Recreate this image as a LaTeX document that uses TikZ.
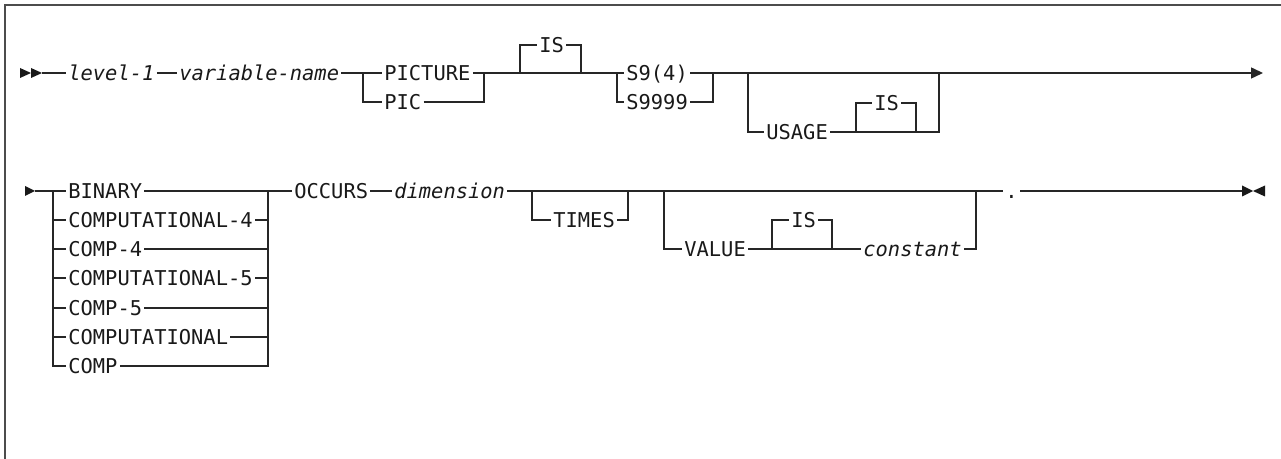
\documentclass[tikz,border=0pt]{standalone}
\usepackage{fontspec}
\setmonofont{DejaVu Sans Mono}
\usepackage{tikz}
\usetikzlibrary{arrows.meta}
\tikzset{
  rail/.style={draw=black!85, line width=0.75pt},
  kw/.style={font=\ttfamily\fontsize{10.2}{12}\selectfont, text=black!90,
    inner xsep=1pt, inner ysep=0pt, text height=7.45pt, text depth=0pt, anchor=west},
  vr/.style={kw, font=\ttfamily\itshape\fontsize{10.2}{12}\selectfont},
  tip/.style={fill=black!90},
  >={Triangle[length=6pt,width=5.5pt]},
}

\begin{document}
\begin{tikzpicture}[x=0.5pt,y=-0.5pt]
\useasboundingbox (0,0) rectangle (1281,459);
% frame
\draw[rail, draw=black!70] (1281,5) -- (5,5) -- (5,459);

% first line
\coordinate (a0) at (42,73);
\node[vr] (lvl) at (66,73) {level-1};
\node[vr] (vname) at (177,73) {variable-name};
\coordinate (b1) at (363,73);
\node[kw] (pict) at (382,73) {PICTURE};
\node[kw] (pic) at (382,102) {PIC};
\coordinate (b2) at (484,73);
\coordinate (o1) at (520,73);
\node[kw] (is1) at (537,45) {IS};
\coordinate (o2) at (581,73);
\coordinate (c1) at (617,73);
\node[kw] (s94) at (624,73) {S9(4)};
\node[kw] (s9999) at (624,102) {S9999};
\coordinate (c2) at (713,73);
\coordinate (u1) at (748,73);
\node[kw] (usage) at (764,132) {USAGE};
\coordinate (i1) at (856,132);
\node[kw] (is2) at (872,103) {IS};
\coordinate (i2) at (916,132);
\coordinate (u2) at (939,73);
\coordinate (e1) at (1263,73);

\fill[tip] (20,68) -- (31,73) -- (20,78) -- cycle;
\fill[tip] (31,68) -- (42,73) -- (31,78) -- cycle;

\draw[rail] (a0) -- (lvl.west) (lvl.east) -- (vname.west)
  (vname.east) -- (pict.west) (pict.east) -- (s94.west);
\draw[rail] (b1) |- (pic.west) (pic.east) -| (b2);
\draw[rail] (o1) |- (is1.west) (is1.east) -| (o2);
\draw[rail] (c1) |- (s9999.west) (s9999.east) -| (c2);
\draw[rail] (u1) |- (usage.west) (usage.east) -- (i2) -| (u2);
\draw[rail] (i1) |- (is2.west) (is2.east) -| (i2);
\draw[rail,->] (s94.east) -- (e1);

% second line
\coordinate (a2) at (35,191);
\coordinate (k1) at (53,191);
\node[kw] (bin) at (66,191) {BINARY};
\node[kw] (cmp4l) at (66,220) {COMPUTATIONAL-4};
\node[kw] (cmp4) at (66,249) {COMP-4};
\node[kw] (cmp5l) at (66,278) {COMPUTATIONAL-5};
\node[kw] (cmp5) at (66,308) {COMP-5};
\node[kw] (cmpl) at (66,337) {COMPUTATIONAL};
\node[kw] (cmp) at (66,366) {COMP};
\coordinate (k2) at (268,191);
\node[kw] (occ) at (292,191) {OCCURS};
\node[vr] (dim) at (392,191) {dimension};
\coordinate (t1) at (532,191);
\node[kw] (times) at (551,220) {TIMES};
\coordinate (t2) at (628,191);
\coordinate (v1) at (664,191);
\node[kw] (val) at (682,249) {VALUE};
\coordinate (i3) at (772,249);
\node[kw] (is3) at (789,220) {IS};
\coordinate (i4) at (832,249);
\node[vr] (const) at (861,249) {constant};
\coordinate (v2) at (976,191);
\node[kw] (dot) at (1003,191) {.};
\coordinate (z1) at (1242,191);

\fill[tip] (25,186) -- (35,191) -- (25,196) -- cycle;

\draw[rail] (a2) -- (bin.west) (bin.east) -- (occ.west)
  (occ.east) -- (dim.west) (dim.east) -- (dot.west) (dot.east) -- (z1);
\draw[rail] (k1) |- (cmp.west) (cmp.east) -| (k2);
\draw[rail] (k1 |- cmp4l.west) -- (cmp4l.west) (cmp4l.east) -- (k2 |- cmp4l.east);
\draw[rail] (k1 |- cmp4.west) -- (cmp4.west) (cmp4.east) -- (k2 |- cmp4.east);
\draw[rail] (k1 |- cmp5l.west) -- (cmp5l.west) (cmp5l.east) -- (k2 |- cmp5l.east);
\draw[rail] (k1 |- cmp5.west) -- (cmp5.west) (cmp5.east) -- (k2 |- cmp5.east);
\draw[rail] (k1 |- cmpl.west) -- (cmpl.west) (cmpl.east) -- (k2 |- cmpl.east);
\draw[rail] (t1) |- (times.west) (times.east) -| (t2);
\draw[rail] (v1) |- (val.west) (val.east) -- (const.west) (const.east) -| (v2);
\draw[rail] (i3) |- (is3.west) (is3.east) -| (i4);

\fill[tip] (1242,185.5) -- (1253,191) -- (1242,196.5) -- cycle;
\fill[tip] (1265,185.5) -- (1253,191) -- (1265,196.5) -- cycle;
\end{tikzpicture}
\end{document}
